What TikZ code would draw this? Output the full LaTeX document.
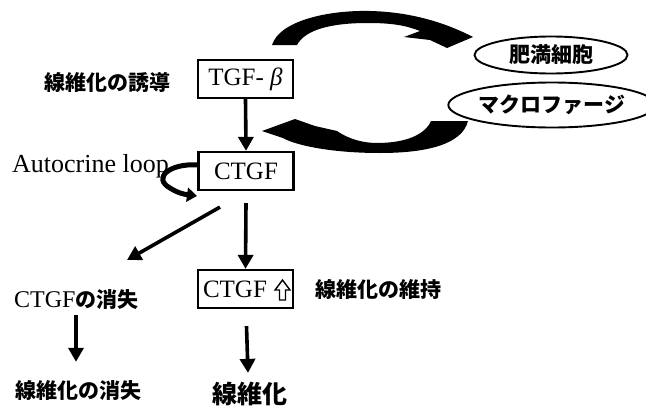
\documentclass[tikz,border=0pt]{standalone}
\usepackage{fontspec}
\setmainfont{Liberation Serif}
\newfontfamily\jp{Noto Sans CJK JP}
\usetikzlibrary{arrows.meta,shapes.geometric,calc}
\begin{document}
\begin{tikzpicture}[x=1pt,y=-1pt,
  box/.style={draw,line width=2.2pt,minimum width=95pt,minimum height=38pt,inner sep=0pt,font=\fontsize{25}{25}\selectfont},
  ell/.style={ellipse,draw,line width=1.9pt,inner sep=0pt},
  arr/.style={line width=3.6pt,-{Triangle[length=14pt,width=15pt]}},
  jplab/.style={font=\jp\bfseries\fontsize{21}{21}\selectfont,inner sep=0pt},
  lat/.style={font=\fontsize{26}{26}\selectfont,inner sep=0pt}]
\useasboundingbox (0,0) rectangle (646,407);
% boxes
\node[box] (tgf) at (245.5,79) {TGF- {\itshape β}};
\node[box] (ctgf) at (246,171) {CTGF};
\node[box] (ctgfup) at (245.5,289) {CTGF\kern21pt};
\begin{scope}[shift={(ctgfup.center)}]
  \draw[line width=1.4pt,line join=miter] (37,-9) -- (44.5,1) -- (40,1) -- (40,11) -- (34,11) -- (34,1) -- (29.5,1) -- cycle;
\end{scope}
% ellipses
\node[ell,minimum width=153pt,minimum height=37pt,jplab] (mast) at (551,55) {肥満細胞};
\node[ell,minimum width=175pt,minimum height=45pt,jplab] (macro) at (552,105) {マクロファージ};
% labels
\node[jplab] (induce) at (108,83) {線維化の誘導};
\node[lat,anchor=base west] (auto) at (12,172) {Autocrine loop};
\node[jplab] (keep) at (378,290) {線維化の維持};
\node[inner sep=0pt,anchor=base west,font=\fontsize{24}{24}\selectfont] (lost) at (14,307) {CTGF{\jp\bfseries\fontsize{21}{21}\selectfont の消失}};
\node[jplab] (fiblost) at (79,390) {線維化の消失};
\node[inner sep=0pt,font=\jp\bfseries\fontsize{25}{25}\selectfont] (fib) at (250,394) {線維化};
% straight arrows
\coordinate (dtip) at (127,260);
\coordinate (lostbot) at (76,315);
\draw[arr] (tgf.south) -- (ctgf.north);
\draw[arr] ($(ctgf.south)+(0,12)$) -- (ctgfup.north);
\draw[arr] ($(ctgf.south)+(-26,16)$) -- (dtip);
\draw[arr] (lostbot) -- ($(fiblost.north)+(-3,-18)$);
\draw[arr] ($(ctgfup.south)+(1,17)$) -- ($(fib.north)+(-2,-9)$);
% autocrine loop
\coordinate (loopend) at (197,196);
\draw[line width=5pt,-{Triangle[length=10pt,width=14pt]}] ([yshift=6pt]ctgf.west) .. controls (170,163) and (152,178) .. (170,188) .. controls (176,192) and (182,194) .. (loopend);
% big curved arrows
\fill (272,45) .. controls (280,20) and (330,10) .. (370,11) .. controls (415,12) and (450,25) .. (473,37) -- (447,48) -- (430,40) -- (404,37) -- (420,31) .. controls (405,25) and (390,23) .. (368,23) .. controls (330,23) and (305,30) .. (297,45) -- cycle;
\fill (468,121) .. controls (462,145) and (425,153) .. (380,153) .. controls (330,153) and (295,145) .. (283,138) -- (262,131) -- (295,119) -- (315,126) -- (337,131) .. controls (350,140) and (365,143) .. (377,143) .. controls (405,143) and (425,135) .. (431,121) -- cycle;
\end{tikzpicture}
\end{document}
